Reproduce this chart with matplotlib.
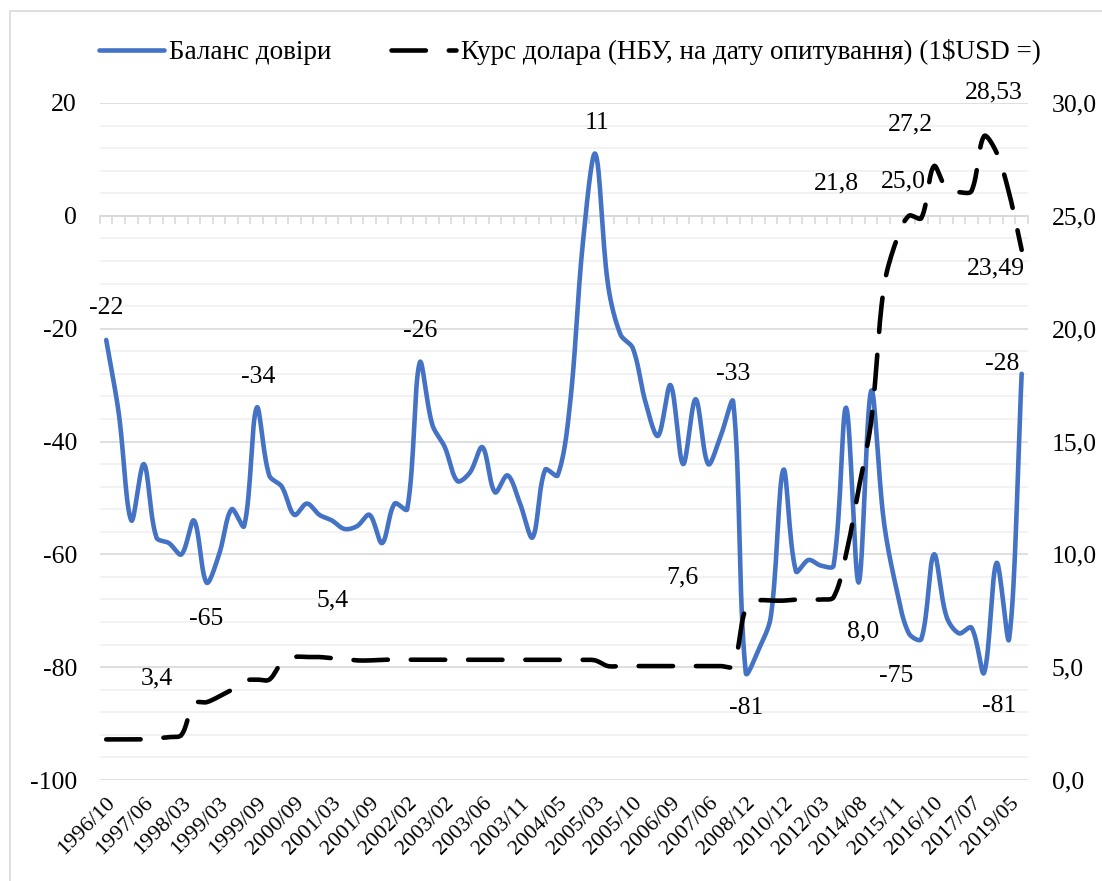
import numpy as np
import matplotlib.pyplot as plt
from matplotlib.patches import Rectangle

plt.rcParams['font.family'] = ['Liberation Serif', 'DejaVu Serif']
plt.rcParams['axes.unicode_minus'] = False

# підписи осі X (кожне третє опитування)
tick_labels = ['1996/10', '1997/06', '1998/03', '1999/03', '1999/09', '2000/09',
               '2001/03', '2001/09', '2002/02', '2003/02', '2003/06', '2003/11',
               '2004/05', '2005/03', '2005/10', '2006/09', '2007/06', '2008/12',
               '2010/12', '2012/03', '2014/08', '2015/11', '2016/10', '2017/07',
               '2019/05']

# баланс довіри (ліва вісь)
balance = [-22, -35, -54, -44, -57, -58, -60, -54, -65, -60,
           -52, -55, -34, -46, -48, -53, -51, -53, -54, -55.5,
           -55, -53, -58, -51, -52, -26, -37, -41, -47, -45.5,
           -41, -49, -46, -51, -57, -45, -46, -33, -5, 11,
           -12, -21, -23.5, -33, -39, -30, -44, -32.5, -44, -39,
           -33, -81, -77, -71, -45, -63, -61, -62, -62, -34,
           -65, -31, -54, -66, -74, -75, -60, -71, -74, -73,
           -81, -61.5, -75, -28]

# курс долара (права вісь)
usd_rate = [1.8, 1.8, 1.8, 1.8, 1.85, 1.9, 2.0, 3.4, 3.45, 3.7,
            4.0, 4.4, 4.45, 4.45, 5.2, 5.45, 5.45, 5.45, 5.4, 5.35,
            5.3, 5.3, 5.33, 5.33, 5.33, 5.33, 5.33, 5.33, 5.33, 5.33,
            5.33, 5.33, 5.33, 5.33, 5.33, 5.33, 5.33, 5.33, 5.33, 5.3,
            5.05, 5.05, 5.05, 5.05, 5.05, 5.05, 5.05, 5.05, 5.05, 5.05,
            5.05, 7.6, 7.95, 7.95, 7.95, 8.0, 8.0, 8.0, 8.1, 10.0,
            12.9, 15.9, 21.8, 23.9, 25.0, 24.9, 27.2, 26.2, 26.05, 26.1,
            28.53, 27.8, 26.0, 23.49]

# підписи даних: (індекс точки, зсув x, зсув y) у пікселях
balance_notes = [(0, 0, 32), (8, 0, -36), (12, 1, 31), (25, 0, 32), (39, 2, 31),
                 (50, 0, 28), (51, 0, -35), (65, -25, -37), (70, 15, -33), (73, -19, 10)]
rate_notes = [(7, -37, 25), (18, 1, 58), (51, -63, 31), (57, 42, -32), (62, -47, 105),
              (64, -5, 34), (66, -23, 42), (70, 10, 44), (73, -26, -19)]


def smooth(ax, x, y, n=16):
    """Згладжена лінія як в Excel: криві Без'є, рахуються в пікселях"""
    pts = ax.transData.transform(np.column_stack([x, y]))
    p = np.vstack([pts[0], pts, pts[-1]])
    t = np.linspace(0, 1, n, endpoint=False)[:, None]
    out = []
    for i in range(len(pts) - 1):
        p0, p1, p2, p3 = p[i], p[i + 1], p[i + 2], p[i + 3]
        d01 = np.hypot(*(p1 - p0))
        d12 = np.hypot(*(p2 - p1))
        d23 = np.hypot(*(p3 - p2))
        c1 = p1 + (p2 - p0) * d12 / max(d01 + d12, 1e-9) / 3
        c2 = p2 - (p3 - p1) * d12 / max(d12 + d23, 1e-9) / 3
        out.append((1 - t) ** 3 * p1 + 3 * (1 - t) ** 2 * t * c1
                   + 3 * (1 - t) * t ** 2 * c2 + t ** 3 * p2)
    out.append(pts[-1:])
    curve = ax.transData.inverted().transform(np.vstack(out))
    return curve[:, 0], curve[:, 1]


def fmt_rate(v):
    if abs(v * 10 - round(v * 10)) < 1e-9:
        return f"{v:.1f}".replace('.', ',')
    return f"{v:.2f}".replace('.', ',')


idx = np.arange(len(balance))
label_pos = np.arange(len(tick_labels)) * 3

fig = plt.figure(figsize=(11.02, 8.81), dpi=100)
fig.patches.append(Rectangle((10 / 1102, -0.01), 1.1, 1 - 11 / 881 + 0.01,
                             transform=fig.transFigure, fill=False,
                             edgecolor='#D9D9D9', lw=1.2))

ax = fig.add_axes([0.0907, 0.1146, 0.8421, 0.7685])
ax.set_xlim(-0.5, len(balance) - 0.5)
ax.set_ylim(-100, 20)
ax.set_yticks(np.arange(-100, 21, 20))
ax.set_yticks(np.arange(-100, 21, 4), minor=True)
ax.grid(which='minor', axis='y', color='#F0F0F0', lw=1.2)
ax.grid(which='major', axis='y', color='#D9D9D9', lw=1.2)
ax.set_axisbelow(True)
ax.tick_params(axis='y', which='both', length=0, pad=16.5, labelsize=18.5)
ax.set_xticks(label_pos, tick_labels, rotation=45, ha='right', rotation_mode='anchor')
ax.tick_params(axis='x', length=0, pad=10, labelsize=16)
for s in ax.spines.values():
    s.set_visible(False)

# лінія нуля з поділками
ylo, yhi = ax.get_ylim()
sec = ax.secondary_xaxis((0 - ylo) / (yhi - ylo))
sec.set_xticks(np.arange(-0.5, len(balance), 1))
sec.tick_params(direction='in', length=6, color='#D9D9D9', width=1.2,
                labeltop=False, labelbottom=False)
for s in sec.spines.values():
    s.set_color('#D9D9D9')
    s.set_linewidth(1.2)

ax2 = ax.twinx()
ax2.set_ylim(0, 30)
ax2.set_yticks(np.arange(0, 31, 5))
ax2.set_yticklabels([f"{v:.1f}".replace('.', ',') for v in np.arange(0, 31, 5)])
ax2.tick_params(axis='y', length=0, pad=17, labelsize=18.5)
for s in ax2.spines.values():
    s.set_visible(False)

sx, sy = smooth(ax, idx, balance)
l1, = ax.plot(sx, sy, color='#4472C4', lw=3.3, solid_capstyle='round',
              label='Баланс довіри')

rx, ry = smooth(ax2, idx, usd_rate)
l2, = ax2.plot(rx, ry, color='black', lw=3.3, dashes=(7.5, 5), dash_capstyle='round',
               label='Курс долара (НБУ, на дату опитування) (1$USD =)')

for i, dx, dy in balance_notes:
    ax.annotate(f"{balance[i]:.0f}", (idx[i], balance[i]), xytext=(dx, dy),
                textcoords='offset pixels', ha='center', va='center', fontsize=18.5)
for i, dx, dy in rate_notes:
    ax2.annotate(fmt_rate(usd_rate[i]), (idx[i], usd_rate[i]), xytext=(dx, dy),
                 textcoords='offset pixels', ha='center', va='center', fontsize=18.5)

fig.legend([l1, l2], [l1.get_label(), l2.get_label()], loc='center',
           bbox_to_anchor=(570 / 1102, 1 - 52 / 881), ncol=2, frameon=False,
           fontsize=19.5, handlelength=2.4, handletextpad=0.2, columnspacing=2.2)

fig.savefig('out.png', dpi=100)
